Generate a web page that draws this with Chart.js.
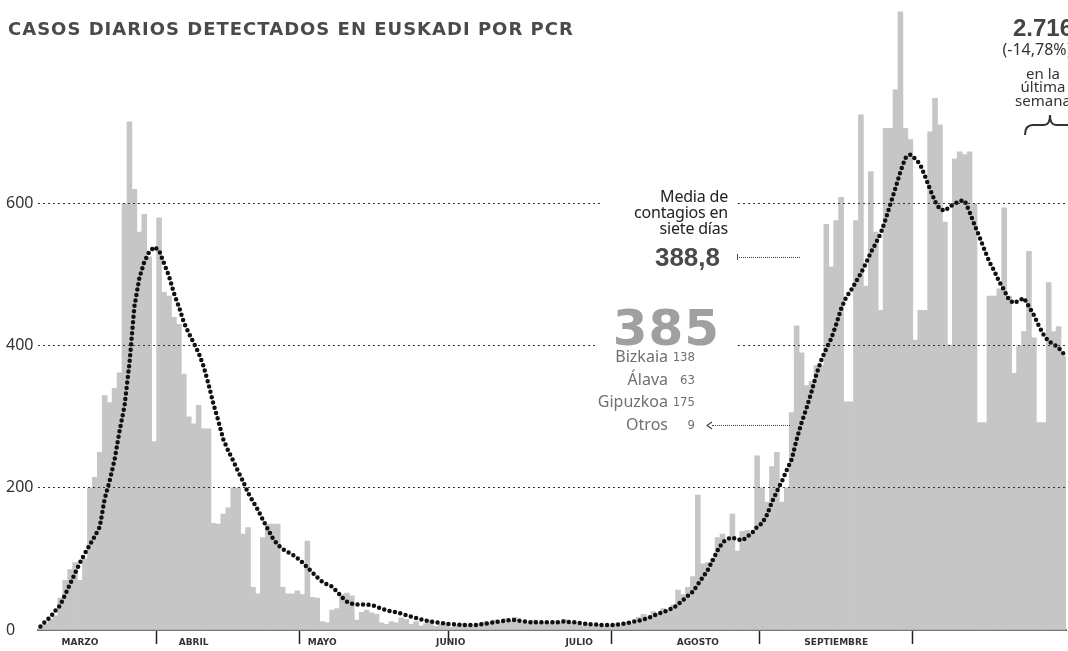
<!DOCTYPE html>
<html>
<head>
<meta charset="utf-8">
<script src="https://cdn.jsdelivr.net/npm/chart.js@4.4.1/dist/chart.umd.min.js"></script>
<style>
  html, body { margin: 0; padding: 0; background: #fff; }
  #wrap { position: relative; width: 1068px; height: 651px; overflow: hidden; font-family: 'Noto Sans', sans-serif; }
  #grafico { position: absolute; left: 0; top: 0; }
  .t { position: absolute; white-space: nowrap; }
  .mask { position: absolute; background: #fff; }
  #titulo { left: 8px; top: 20px; font: bold 18px/18px 'DejaVu Sans', sans-serif; letter-spacing: 1px; color: #4a4a4a; }
  #media { right: 340px; top: 188px; text-align: right; font-size: 16px; line-height: 16px; color: #222; letter-spacing: -0.2px; }
  #media-val { right: 348px; top: 244px; font: bold 26px/26px 'Liberation Sans', sans-serif; color: #4a4a4a; }
  #hoy { right: 348px; top: 303px; font: bold 50px/50px 'DejaVu Sans', sans-serif; color: #a0a0a0; letter-spacing: 1px; }
  .fila { position: absolute; font-size: 16px; line-height: 16px; color: #707070; }
  .fila .lab { position: absolute; right: 27px; }
  .fila .num { position: absolute; right: 0; top: 1px; font-family: 'DejaVu Sans Condensed', 'DejaVu Sans', sans-serif; font-size: 13px; }
  #semana div { position: absolute; left: 0; width: 100px; text-align: center; color: #333; }
  .lead { position: absolute; height: 0; border-top: 1px dotted #444; }
</style>
</head>
<body>
<div id="wrap">
  <canvas id="grafico" width="1068" height="651"></canvas>

  <div class="mask" style="left:600px;top:190px;width:137px;height:16px"></div>
  <div class="mask" style="left:596px;top:335px;width:140px;height:16px"></div>

  <div class="t" id="titulo">CASOS DIARIOS DETECTADOS EN EUSKADI POR PCR</div>

  <div class="t" id="media">Media de<br>contagios en<br>siete días</div>
  <div class="t" id="media-val">388,8</div>
  <div class="lead" style="left:737px;top:257px;width:63px"></div>
  <div style="position:absolute;left:737px;top:254px;width:1px;height:6px;background:#444"></div>

  <div class="t" id="hoy">385</div>
  <div id="tabla"></div>
  <div class="lead" style="left:712px;top:425px;width:78px"></div>
  <svg style="position:absolute;left:706px;top:421px" width="8" height="9"><path d="M6 1 L1 4.5 L6 8" fill="none" stroke="#444" stroke-width="1.2"/></svg>

  <div id="semana" style="position:absolute;left:993px;top:0;width:100px;height:140px">
    <div style="top:16px;font:bold 24px/24px 'Liberation Sans',sans-serif;color:#444">2.716</div>
    <div style="top:42px;left:-6px;font-size:16px;line-height:15px">(-14,78%)</div>
    <div style="top:66px;font-size:15px;line-height:15px">en la</div>
    <div style="top:79px;font-size:15px;line-height:15px">última</div>
    <div style="top:93px;font-size:15px;line-height:15px">semana</div>
  </div>
  <svg style="position:absolute;left:1022px;top:110px" width="60" height="28">
    <path d="M3 25 Q3 15 11 15 L22 15 Q28 15 28 5 Q28 15 34 15 L45 15 Q53 15 53 25" fill="none" stroke="#333" stroke-width="2"/>
  </svg>
</div>

<script>
// casos diarios por PCR (desde el 7 de marzo)
const casos = [
  3, 8, 15, 20, 45, 70, 85, 95, 70, 100,
  200, 215, 250, 330, 320, 340, 362, 600, 715, 620,
  560, 585, 525, 265, 580, 475, 470, 440, 430, 360,
  300, 290, 316, 283, 283, 150, 149, 163, 172, 200,
  200, 135, 144, 60, 51, 130, 149, 149, 149, 60,
  51, 51, 55, 50, 125, 46, 45, 12, 10, 28,
  30, 50, 52, 48, 14, 25, 28, 24, 22, 10,
  8, 12, 10, 17, 15, 8, 12, 6, 9, 14,
  5, 8, 10, 4, 7, 9, 6, 8, 5, 9,
  12, 10, 14, 11, 16, 13, 18, 10, 12, 9,
  14, 10, 12, 9, 13, 11, 15, 10, 12, 8,
  7, 9, 6, 8, 5, 7, 9, 6, 10, 12,
  9, 18, 22, 20, 26, 24, 30, 28, 35, 56,
  50, 60, 75, 190, 93, 95, 100, 130, 135, 125,
  163, 111, 139, 140, 135, 245, 200, 180, 230, 250,
  180, 200, 306, 428, 390, 344, 350, 372, 372, 571,
  511, 576, 609, 321, 321, 576, 725, 484, 645, 560,
  450, 706, 706, 760, 870, 706, 690, 408, 450, 450,
  701, 748, 711, 574, 401, 663, 673, 669, 673, 600,
  292, 292, 470, 470, 480, 594, 470, 361, 400, 420,
  533, 411, 292, 292, 489, 420, 427, 385
];

// media de contagios en siete días
const media7 = [
  5, 12, 18, 27, 35, 50, 65, 80, 95, 108,
  120, 132, 145, 185, 210, 240, 280, 315, 375, 455,
  495, 518, 532, 539, 534, 516, 498, 474, 455, 433,
  418, 404, 390, 371, 346, 318, 294, 268, 252, 238,
  223, 209, 193, 181, 169, 155, 142, 129, 120, 114,
  110, 106, 101, 95, 88, 81, 74, 68, 64, 61,
  54, 46, 40, 37, 36, 36, 36, 35, 33, 30,
  28, 26, 25, 23, 21, 19, 17, 15, 13, 12,
  11, 10, 9, 8, 8, 7, 7, 7, 7, 8,
  9, 10, 11, 12, 13, 14, 14, 13, 12, 11,
  11, 11, 11, 11, 11, 11, 12, 11, 11, 10,
  9, 8, 8, 7, 7, 7, 7, 8, 9, 10,
  12, 13, 15, 17, 20, 23, 25, 28, 31, 36,
  42, 48, 54, 64, 74, 84, 98, 112, 123, 128,
  130, 128, 126, 131, 137, 145, 150, 162, 180, 195,
  209, 225, 240, 268, 292, 312, 335, 360, 380, 396,
  410, 430, 452, 468, 478, 490, 502, 516, 531, 544,
  558, 578, 600, 622, 645, 664, 669, 663, 655, 638,
  620, 603, 592, 590, 596, 600, 604, 604, 588, 570,
  553, 535, 518, 505, 490, 478, 464, 460, 464, 467,
  455, 443, 428, 415, 406, 402, 397, 389
];

const yTicks = [0, 200, 400, 600];
const meses = ['MARZO', 'ABRIL', 'MAYO', 'JUNIO', 'JULIO', 'AGOSTO', 'SEPTIEMBRE'];
const mesesDia = [8, 31, 57, 83, 109, 133, 161];   // día donde va cada rótulo
const cortesDia = [24, 53, 83, 116, 146, 177];     // marcas de separación

const territorios = ['Bizkaia', 'Álava', 'Gipuzkoa', 'Otros'];
const casosHoy = [138, 63, 175, 9];

// etiquetas de día
const dias = [];
for (let i = 0; i < casos.length; i++) {
  const d = new Date(2020, 2, 7 + i);
  dias.push(d.getDate() + '/' + (d.getMonth() + 1));
}

// tabla de territorios
const tabla = document.getElementById('tabla');
tabla.innerHTML = territorios.map((t, i) => `
  <div class="fila" style="left:560px;width:135px;top:${348 + i * 22.7}px">
    <span class="lab">${t}</span><span class="num">${casosHoy[i]}</span>
  </div>`).join('');

new Chart(document.getElementById('grafico'), {
  type: 'bar',
  data: {
    labels: dias,
    datasets: [
      { type: 'line', label: 'Media 7 días', data: media7, borderColor: '#111', borderWidth: 4.5,
        borderDash: [0, 5.5], borderCapStyle: 'round', pointRadius: 0, fill: false, tension: 0, order: 0 },
      { type: 'bar', label: 'Casos', data: casos, backgroundColor: '#c6c6c6',
        barPercentage: 1, categoryPercentage: 1, order: 1 }
    ]
  },
  options: {
    responsive: false,
    animation: false,
    devicePixelRatio: 1,
    layout: { padding: { left: 6, right: 2, top: 2, bottom: 0 } },
    plugins: { legend: { display: false }, tooltip: { enabled: false } },
    scales: {
      x: {
        offset: true,
        grid: {
          offset: true, drawOnChartArea: false, tickLength: 14, tickWidth: 1.5,
          color: ctx => cortesDia.includes(ctx.index) ? '#222' : 'rgba(0,0,0,0)'
        },
        border: { display: true, color: '#777', width: 2 },
        ticks: {
          autoSkip: false, maxRotation: 0, padding: -7, color: '#333',
          font: { family: "'DejaVu Sans'", size: 9, weight: 'bold' },
          callback: (v, i) => { const k = mesesDia.indexOf(i); return k >= 0 ? meses[k] : ''; }
        },
        afterFit: s => { s.height = 21; }
      },
      y: {
        min: 0, max: 873,
        afterBuildTicks: s => { s.ticks = yTicks.map(v => ({ value: v })); },
        afterFit: s => { s.width = 32; },
        grid: { drawTicks: false, z: 1, lineWidth: 1,
          color: ctx => ctx.tick && ctx.tick.value === 0 ? 'rgba(0,0,0,0)' : '#333' },
        border: { display: false, dash: [2, 3] },
        ticks: { padding: 0, crossAlign: 'far', color: '#333',
          font: { family: "'Noto Sans'", size: 16 } }
      }
    }
  }
});
</script>
</body>
</html>
